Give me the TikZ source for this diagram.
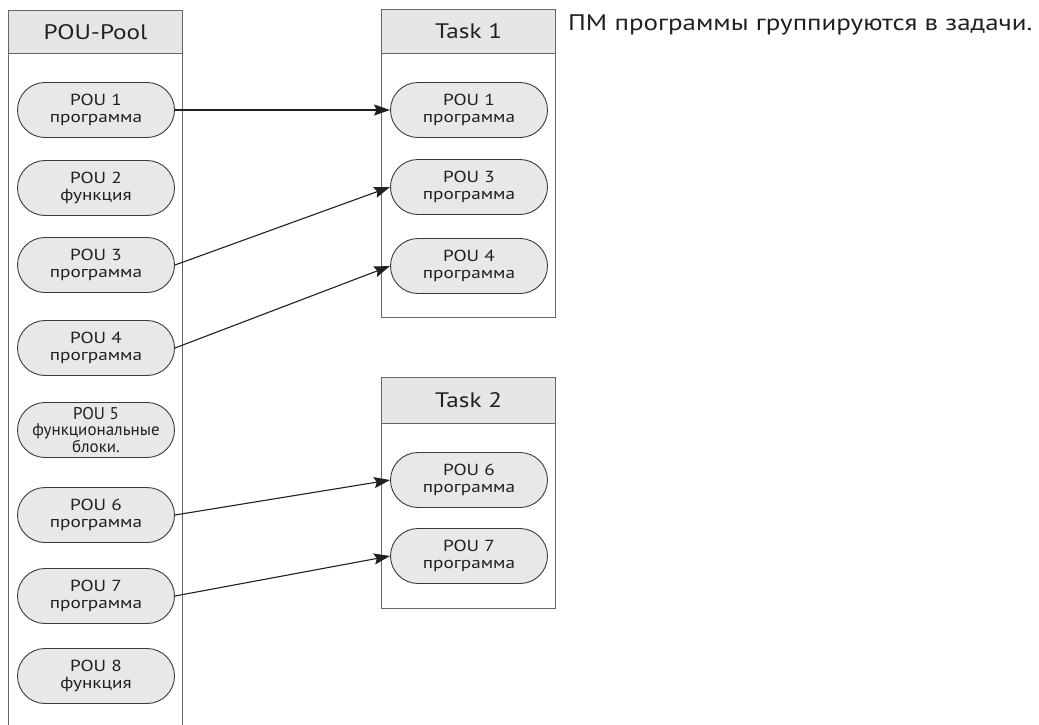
\documentclass[tikz,border=0pt]{standalone}
\usepackage{fontspec}
\setmainfont[FakeStretch=1.2]{PT Sans}
\newfontfamily\plainsans{PT Sans}
\usetikzlibrary{shapes.misc,arrows.meta}
\definecolor{bandgray}{HTML}{E6E6E6}
\definecolor{pillgray}{HTML}{E8E8E8}
\definecolor{boxline}{HTML}{666666}
\definecolor{pillline}{HTML}{3A3A3A}
\definecolor{txt}{HTML}{231F20}
\begin{document}
\begin{tikzpicture}[x=1pt,y=-1pt,
  titlebox/.style={draw=boxline, line width=1.2pt, fill=bandgray, minimum width=174pt, anchor=north west, inner sep=0pt, text=txt, font={\fontsize{21pt}{24pt}\selectfont}},
  bodybox/.style={draw=boxline, line width=1.2pt, minimum width=174pt, anchor=north west, inner sep=0pt},
  pill/.style={rounded rectangle, draw=pillline, line width=0.9pt, fill=pillgray, minimum width=157pt, minimum height=55pt, inner sep=0pt, align=center, text=txt, font={\fontsize{16pt}{17pt}\selectfont}},
  arr/.style={-{Stealth[length=16pt,width=11pt,inset=2.5pt]}, line width=1.1pt, draw=txt}]
\useasboundingbox (0,0) rectangle (1039,724);
\clip (0,0) rectangle (1039,724);
% POU-Pool
\node[bodybox, minimum height=680pt] (poolbody) at (8,53) {};
\node[titlebox, minimum height=43pt] (pooltitle) at (8,10) {POU-Pool};
% Task 1
\node[bodybox, minimum height=264pt] (t1body) at (381,53) {};
\node[titlebox, minimum height=44pt] (t1title) at (381,9) {Task 1};
% Task 2
\node[bodybox, minimum height=185pt] (t2body) at (381,423) {};
\node[titlebox, minimum height=46pt] (t2title) at (381,377) {Task 2};
% header text
\node[anchor=base west, inner sep=0pt, text=txt, font={\fontsize{22.5pt}{24pt}\selectfont}] (note) at (568,30) {ПМ программы группируются в задачи.};
% pool pills
\node[pill] (p1) at (96,110) {POU 1\\программа};
\node[pill] (p2) at (96,188) {POU 2\\функция};
\node[pill] (p3) at (96,265) {POU 3\\программа};
\node[pill] (p4) at (96,348) {POU 4\\программа};
\node[pill, font={\plainsans\fontsize{17pt}{16.5pt}\selectfont}] (p5) at (96,430) {POU 5\\функциональные\\блоки.};
\node[pill] (p6) at (96,515) {POU 6\\программа};
\node[pill] (p7) at (96,596) {POU 7\\программа};
\node[pill] (p8) at (96,676) {POU 8\\функция};
% task pills
\node[pill] (a1) at (469,110) {POU 1\\программа};
\node[pill] (a3) at (469,187) {POU 3\\программа};
\node[pill] (a4) at (469,266) {POU 4\\программа};
\node[pill] (b6) at (469,480) {POU 6\\программа};
\node[pill] (b7) at (469,556) {POU 7\\программа};
% arrows
\draw[arr] (p1.east) -- (a1.west);
\draw[arr] (p3.east) -- (a3.west);
\draw[arr] (p4.east) -- (a4.west);
\draw[arr] (p6.east) -- (b6.west);
\draw[arr] (p7.east) -- (b7.west);
\end{tikzpicture}
\end{document}
